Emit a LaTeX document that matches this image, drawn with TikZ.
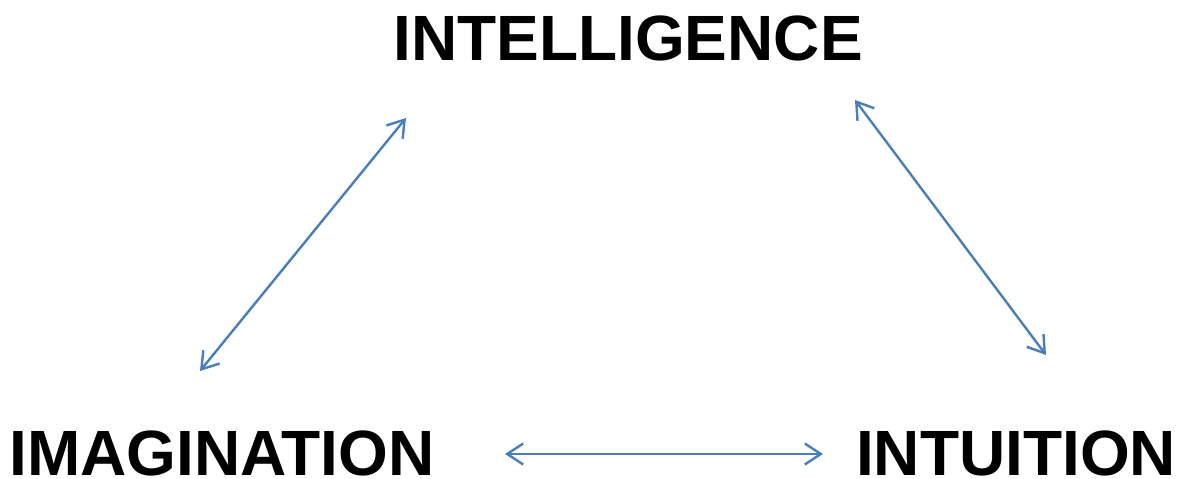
\documentclass[tikz,border=0pt]{standalone}
\usepackage{fontspec}
\setmainfont{Liberation Sans}
\usetikzlibrary{arrows.meta}
\definecolor{linkblue}{RGB}{74,126,187}
\tikzset{
  term/.style={font=\bfseries\fontsize{64}{64}\selectfont, inner sep=0pt, text=black},
  link/.style={draw=linkblue, line width=2.4pt,
    >={Straight Barb[length=16pt,width=21pt,line width=2.4pt]}, <->}
}
\begin{document}
\begin{tikzpicture}[x=1pt,y=1pt]
  \useasboundingbox (0,0) rectangle (1178,479);
  % the three faculties
  \node[term] (intel) at (628,441) {INTELLIGENCE};
  \node[term] (imag)  at (222,26) {IMAGINATION};
  \node[term] (intu)  at (1016,26) {INTUITION};
  % ends of the double-headed links
  \coordinate (imagTop)    at (200,108);
  \coordinate (intelLeft)  at (406,361);
  \coordinate (intelRight) at (855,379);
  \coordinate (intuTop)    at (1046,124);
  \coordinate (imagRight)  at (505,25);
  \coordinate (intuLeft)   at (823,25);
  % links between the faculties
  \draw[link] (imagTop) -- (intelLeft);
  \draw[link] (intelRight) -- (intuTop);
  \draw[link] (imagRight) -- (intuLeft);
\end{tikzpicture}
\end{document}
